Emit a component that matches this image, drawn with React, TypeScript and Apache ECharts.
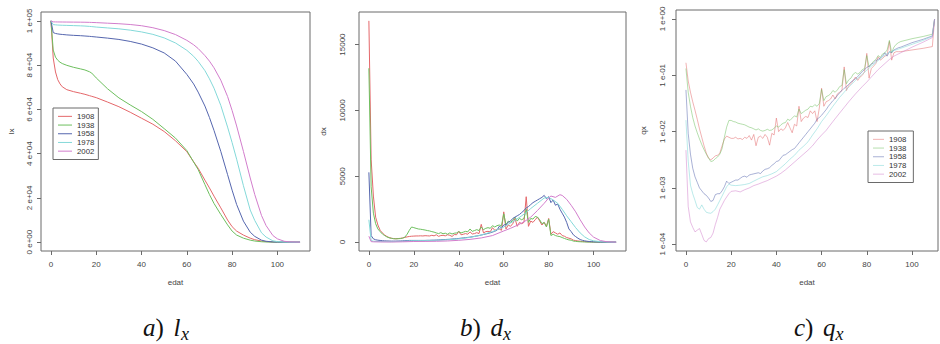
import React, { useEffect, useRef } from "react";
import * as echarts from "echarts";

// ---------- categories / styling keys ----------
const years = ["1908", "1938", "1958", "1978", "2002"];
const lineColors = ["#E4676A", "#6DBF5E", "#5566AE", "#84D9D9", "#D27DCC"];
const qxLineColors = [
  "rgba(228,103,106,0.5)",
  "rgba(109,191,94,0.5)",
  "rgba(85,102,174,0.5)",
  "rgba(132,217,217,0.55)",
  "rgba(210,125,204,0.5)",
];

// ---------- tick labels ----------
const edatTicks = [0, 20, 40, 60, 80, 100];
const lxTickValues = [0, 20000, 40000, 60000, 80000, 100000];
const lxTickLabels = ["0 e+00", "2 e+04", "4 e+04", "6 e+04", "8 e+04", "1 e+05"];
const dxTickValues = [0, 5000, 10000, 15000];
const dxTickLabels = ["0", "5000", "10000", "15000"];
const qxTickValues = [1e-4, 1e-3, 1e-2, 1e-1, 1];
const qxTickLabels = ["1 e-04", "1 e-03", "1 e-02", "1 e-01", "1 e+00"];
const axisNames = ["lx", "dx", "qx"];
const xAxisName = "edat";
const captionLetters = ["a", "b", "c"];
const captionSymbols = ["l", "d", "q"];
const captionSub = "x";

// ---------- a) lx ----------
const lxAges = [0, 1, 2, 3, 4, 5, 7, 10, 13, 15, 17, 18, 20, 25, 30, 35, 40, 45, 50, 55, 60, 63, 65, 68, 70, 72, 75, 78, 80, 82, 85, 88, 90, 93, 95, 98, 100, 103, 105, 110];
const lx1908 = [100000, 83200, 76900, 73400, 71500, 70200, 68900, 68000, 67300, 66800, 66200, 65900, 65300, 63300, 61200, 58700, 56000, 53300, 50000, 45800, 40900, 36300, 33400, 28000, 24500, 20800, 15500, 10000, 7000, 5000, 3200, 1800, 1100, 500, 250, 80, 40, 12, 5, 0];
const lx1938 = [100000, 86800, 83600, 82200, 81300, 80700, 79900, 79000, 78300, 77800, 77000, 76400, 74200, 69300, 65200, 62000, 59000, 55500, 51300, 47000, 41400, 36200, 32800, 26000, 21500, 17500, 12500, 7800, 5000, 3200, 1800, 900, 500, 180, 90, 25, 10, 3, 1, 0];
const lx1958 = [100000, 94700, 94300, 94100, 93950, 93850, 93650, 93450, 93300, 93150, 93000, 92900, 92700, 92200, 91600, 90700, 89500, 87800, 85500, 81800, 75800, 71500, 67800, 61500, 56300, 50500, 41000, 30500, 23500, 17000, 9500, 4500, 2600, 900, 400, 100, 40, 10, 3, 0];
const lx1978 = [100000, 98300, 98200, 98100, 98050, 98000, 97950, 97850, 97750, 97650, 97500, 97400, 97200, 96800, 96400, 95800, 95000, 93900, 92300, 90000, 86700, 84000, 81700, 77500, 73800, 69600, 61800, 52000, 45000, 37500, 25500, 14500, 9800, 4200, 2300, 600, 250, 50, 15, 0];
const lx2002 = [100000, 99550, 99520, 99500, 99490, 99480, 99460, 99430, 99400, 99370, 99320, 99280, 99200, 98950, 98700, 98350, 97800, 96900, 95600, 93800, 91200, 89200, 87500, 84300, 81800, 78800, 73200, 65800, 59500, 52500, 41000, 29000, 21500, 12000, 7500, 3000, 1500, 400, 150, 0];

// ---------- b) dx ----------
const dxAgesYearly = [
  0, 1, 2, 3, 4, 5, 6, 7, 8, 9, 10, 11, 12, 13, 14, 15, 16, 17, 18, 19,
  20, 21, 22, 23, 24, 25, 26, 27, 28, 29, 30, 31, 32, 33, 34, 35, 36, 37, 38, 39,
  40, 41, 42, 43, 44, 45, 46, 47, 48, 49, 50, 51, 52, 53, 54, 55, 56, 57, 58, 59,
  60, 61, 62, 63, 64, 65, 66, 67, 68, 69, 70, 71, 72, 73, 74, 75, 76, 77, 78, 79,
  80, 81, 82, 83, 84, 85, 86, 87, 88, 89, 90, 91, 92, 93, 94, 95, 96, 97, 98, 99,
  100, 103, 106, 110,
];
const dx1908 = [
  16800, 6300, 3500, 1900, 1300, 900, 700, 550, 430, 350,
  300, 270, 260, 270, 290, 320, 360, 400, 430, 450,
  460, 470, 470, 480, 470, 490, 480, 470, 520, 480,
  560, 440, 500, 520, 480, 560, 520, 430, 580, 560,
  820, 560, 600, 650, 600, 780, 620, 650, 720, 650,
  1350, 700, 800, 820, 780, 1100, 900, 950, 1000, 900,
  2300, 1000, 1300, 1200, 1400, 1800, 1200, 1500, 1400, 1500,
  3450, 1200, 1600, 1500, 1700, 1900, 1600, 1300, 1500, 1200,
  1800, 600, 800, 700, 600, 700, 500, 450, 350, 300,
  250, 150, 120, 90, 70, 50, 40, 30, 20, 15,
  10, 5, 2, 0,
];
const dx1938 = [
  13200, 4200, 2200, 1400, 1000, 800, 620, 500, 400, 330,
  290, 260, 250, 260, 270, 300, 380, 600, 900, 1150,
  1100, 1050, 1000, 980, 950, 920, 880, 850, 800, 760,
  700, 650, 720, 640, 680, 600, 700, 620, 680, 700,
  800, 700, 760, 820, 780, 1000, 820, 880, 950, 880,
  1150, 950, 1050, 1100, 1050, 1250, 1150, 1250, 1300, 1250,
  2150, 1300, 1600, 1500, 1650, 1900, 1600, 1800, 1700, 1800,
  2500, 1500, 1800, 1750, 1950, 1900, 1700, 1400, 1500, 1150,
  1750, 500, 600, 500, 450, 420, 350, 280, 220, 170,
  150, 80, 60, 40, 30, 20, 15, 10, 7, 5,
  3, 1, 0, 0,
];
const dx1958 = [
  5300, 500, 250, 180, 150, 130, 110, 100, 90, 85,
  80, 80, 80, 85, 90, 100, 110, 120, 130, 130,
  130, 130, 130, 130, 130, 130, 140, 140, 150, 150,
  160, 170, 180, 190, 200, 210, 220, 235, 250, 265,
  280, 300, 320, 340, 360, 380, 410, 440, 470, 500,
  540, 580, 620, 660, 710, 760, 830, 900, 1200, 1100,
  1300, 1350, 1500, 1600, 1800, 1900, 2000, 2100, 2250, 2400,
  2600, 2700, 2850, 3000, 3100, 3200, 3300, 3400, 3550, 3300,
  3450, 3000, 3200, 2800, 2900, 2500, 2200, 1900, 1500, 1000,
  800, 550, 420, 300, 200, 140, 100, 70, 50, 35,
  25, 8, 2, 0,
];
const dxAges1978 = [0, 1, 2, 5, 10, 15, 20, 25, 30, 35, 40, 45, 50, 55, 60, 63, 65, 68, 70, 72, 75, 78, 80, 82, 84, 86, 88, 90, 92, 94, 96, 98, 100, 103, 106, 110];
const dx1978 = [1700, 120, 70, 45, 35, 60, 110, 120, 140, 180, 250, 360, 540, 800, 1150, 1450, 1650, 2000, 2250, 2550, 2950, 3350, 3400, 3200, 2950, 2500, 2000, 1550, 1100, 700, 400, 200, 100, 40, 10, 0];
const dxAges2002 = [0, 1, 2, 5, 10, 15, 20, 25, 30, 35, 40, 45, 50, 55, 60, 63, 65, 68, 70, 72, 75, 78, 80, 81, 83, 85, 86, 88, 90, 92, 94, 96, 98, 100, 103, 106, 110];
const dx2002 = [450, 40, 25, 15, 12, 25, 50, 55, 65, 90, 140, 210, 320, 500, 850, 1050, 1200, 1450, 1650, 1900, 2400, 2950, 3350, 3500, 3400, 3600, 3550, 3250, 2800, 2300, 1700, 1150, 700, 380, 120, 30, 0];

// ---------- c) qx ----------
const qxAgesYearly = [
  0, 1, 2, 3, 4, 5, 6, 7, 8, 9, 10, 11, 12, 13, 14, 15, 16, 17, 18, 19,
  20, 21, 22, 23, 24, 25, 26, 27, 28, 29, 30, 31, 32, 33, 34, 35, 36, 37, 38, 39,
  40, 41, 42, 43, 44, 45, 46, 47, 48, 49, 50, 51, 52, 53, 54, 55, 56, 57, 58, 59,
  60, 61, 62, 63, 64, 65, 66, 67, 68, 69, 70, 71, 72, 73, 74, 75, 76, 77, 78, 79,
  80, 81, 82, 83, 84, 85, 86, 87, 88, 89, 90, 91, 92, 93, 94, 95,
  100, 105, 109, 110,
];
const qx1908 = [
  0.167, 0.0794, 0.0501, 0.0339, 0.024, 0.0166, 0.0112, 0.0079, 0.00562, 0.00417,
  0.00339, 0.00316, 0.00339, 0.00372, 0.0038, 0.00417, 0.00562, 0.00741, 0.00832, 0.00794,
  0.00759, 0.00759, 0.00794, 0.00741, 0.00759, 0.00724, 0.00794, 0.00759, 0.00851, 0.00708,
  0.00891, 0.00562, 0.00794, 0.00832, 0.00759, 0.00891, 0.00794, 0.00575, 0.00933, 0.00871,
  0.0174, 0.01, 0.0112, 0.0105, 0.0117, 0.0145, 0.0117, 0.00955, 0.0135, 0.0126,
  0.0282, 0.0151, 0.0174, 0.0186, 0.0178, 0.0234, 0.0209, 0.0234, 0.0151, 0.0263,
  0.0589, 0.0282, 0.0339, 0.0355, 0.038, 0.0447, 0.038, 0.0468, 0.0501, 0.0537,
  0.141, 0.0537, 0.0661, 0.0708, 0.0813, 0.0933, 0.0813, 0.0933, 0.1, 0.115,
  0.245, 0.0891, 0.132, 0.145, 0.162, 0.214, 0.186, 0.2, 0.219, 0.229,
  0.398, 0.186, 0.251, 0.263, 0.263, 0.263,
  0.282, 0.302, 0.324, 1,
];
const qx1938 = [
  0.132, 0.0501, 0.0282, 0.0178, 0.0126, 0.00955, 0.00741, 0.00589, 0.00479, 0.00398,
  0.00339, 0.00295, 0.00302, 0.00331, 0.00355, 0.00398, 0.00501, 0.00794, 0.012, 0.0158,
  0.0158, 0.0151, 0.0148, 0.0141, 0.0138, 0.0135, 0.0132, 0.0126, 0.012, 0.0117,
  0.0112, 0.0107, 0.0112, 0.0105, 0.0102, 0.0105, 0.011, 0.0105, 0.0107, 0.0115,
  0.0126, 0.012, 0.0132, 0.0141, 0.0145, 0.0166, 0.0158, 0.0174, 0.0191, 0.0182,
  0.0251, 0.0209, 0.0224, 0.024, 0.0251, 0.0282, 0.0275, 0.0302, 0.0282, 0.0316,
  0.0562, 0.0355, 0.0417, 0.0437, 0.0468, 0.0537, 0.0501, 0.055, 0.0631, 0.0661,
  0.126, 0.0708, 0.0832, 0.0891, 0.105, 0.112, 0.105, 0.112, 0.126, 0.132,
  0.224, 0.141, 0.158, 0.178, 0.191, 0.224, 0.209, 0.24, 0.251, 0.282,
  0.417, 0.251, 0.316, 0.355, 0.38, 0.398,
  0.447, 0.49, 0.537, 1,
];
const qx1958 = [
  0.055, 0.0093, 0.00398, 0.00224, 0.00158, 0.00126, 0.001, 0.00089, 0.00079, 0.00074,
  0.00066, 0.000575, 0.0006, 0.00076, 0.00079, 0.00079, 0.00089, 0.00105, 0.00132, 0.0012,
  0.00126, 0.00132, 0.00138, 0.00138, 0.00148, 0.00158, 0.00162, 0.00155, 0.0017, 0.00174,
  0.00178, 0.00182, 0.00186, 0.0018, 0.002, 0.00214, 0.00219, 0.00229, 0.00251, 0.00269,
  0.00295, 0.00302, 0.00339, 0.0038, 0.00389, 0.00417, 0.00447, 0.00479, 0.00501, 0.00562,
  0.00631, 0.00708, 0.00794, 0.00891, 0.01, 0.0112, 0.0126, 0.0141, 0.0166, 0.0178,
  0.0195, 0.0219, 0.0245, 0.0282, 0.0316, 0.0355, 0.0389, 0.0437, 0.049, 0.0537,
  0.0589, 0.0631, 0.0692, 0.0759, 0.0813, 0.0871, 0.0955, 0.105, 0.117, 0.126,
  0.138, 0.145, 0.158, 0.166, 0.182, 0.191, 0.204, 0.219, 0.251, 0.219,
  0.263, 0.251, 0.282, 0.295, 0.309, 0.316,
  0.38, 0.437, 0.501, 1,
];
const qxAgesSmooth = [
  0, 1, 2, 3, 4, 5, 6, 7, 8, 9, 10, 11, 12, 13, 14, 15, 16, 17, 18, 19, 20,
  22, 24, 26, 28, 30, 32, 34, 36, 38, 40, 42, 44, 46, 48, 50, 52, 54, 56, 58, 60, 62,
  65, 68, 70, 72, 75, 78, 80, 82, 85, 88, 90, 92, 95, 100, 105, 109, 110,
];
const qx1978 = [
  0.016, 0.003, 0.00112, 0.00079, 0.0006, 0.00045, 0.00042, 0.0005, 0.00042, 0.00037, 0.00036, 0.000355, 0.00038, 0.00042, 0.0005, 0.0006, 0.00072, 0.00087, 0.00105, 0.00117, 0.00112,
  0.0011, 0.00112, 0.00115, 0.0012, 0.00132, 0.00145, 0.00158, 0.00166, 0.00178, 0.00195, 0.00229, 0.00269, 0.00324, 0.0038, 0.00468, 0.0055, 0.0066, 0.0087, 0.0112, 0.0151, 0.0191,
  0.0282, 0.0407, 0.0501, 0.0617, 0.0813, 0.105, 0.123, 0.145, 0.182, 0.229, 0.257, 0.275, 0.302, 0.355, 0.417, 0.49, 1,
];
const qx2002 = [
  0.0047, 0.00047, 0.00025, 0.0002, 0.000166, 0.000178, 0.00019, 0.00015, 0.000117, 0.00011, 0.000126, 0.000132, 0.000158, 0.000224, 0.0003, 0.00042, 0.0005, 0.0006, 0.00069, 0.00079, 0.00087,
  0.00089, 0.00085, 0.00093, 0.001, 0.0011, 0.00117, 0.00126, 0.00135, 0.00148, 0.00162, 0.00182, 0.00209, 0.00245, 0.00288, 0.00339, 0.00398, 0.00468, 0.00562, 0.00708, 0.0087, 0.0105,
  0.0151, 0.0214, 0.0269, 0.0339, 0.0468, 0.0631, 0.0759, 0.0933, 0.126, 0.162, 0.191, 0.219, 0.251, 0.316, 0.389, 0.468, 1,
];

// ---------- option building ----------
const FONT = '"Liberation Sans", Arial, sans-serif';
const SERIF = '"Liberation Serif", "DejaVu Serif", serif';
const TXT = "#444";
const BOX = "#6a6a6a";
const TICK_FS = 8;

const pairs = (ages: number[], vals: number[]) => ages.map((a, i) => [a, vals[i]]);

const panelData = [
  [
    [lxAges, lx1908],
    [lxAges, lx1938],
    [lxAges, lx1958],
    [lxAges, lx1978],
    [lxAges, lx2002],
  ],
  [
    [dxAgesYearly, dx1908],
    [dxAgesYearly, dx1938],
    [dxAgesYearly, dx1958],
    [dxAges1978, dx1978],
    [dxAges2002, dx2002],
  ],
  [
    [qxAgesYearly, qx1908],
    [qxAgesYearly, qx1938],
    [qxAgesYearly, qx1958],
    [qxAgesSmooth, qx1978],
    [qxAgesSmooth, qx2002],
  ],
];

function labelFrom(values: number[], labels: string[], v: number) {
  for (let i = 0; i < values.length; i++) {
    if (Math.abs(values[i] - v) <= Math.abs(values[i]) * 1e-6 + 1e-12) return labels[i];
  }
  return "";
}

function buildOption() {
  const grids = [
    { left: 41, top: 12, width: 269, height: 239 },
    { left: 359, top: 12, width: 267, height: 239 },
    { left: 676, top: 10, width: 262, height: 241 },
  ].map((g) => ({
    ...g,
    show: true,
    borderColor: BOX,
    borderWidth: 1,
    backgroundColor: "transparent",
    containLabel: false,
    outerBoundsMode: "none",
  }));

  const xMax = [114.4, 114.4, 111.5];
  const xAxes = xMax.map((max, gi) => ({
    type: "value",
    gridIndex: gi,
    min: -4.4,
    max,
    name: xAxisName,
    nameLocation: "middle",
    nameGap: 27,
    nameMoveOverlap: false,
    nameTextStyle: { fontSize: TICK_FS, color: TXT, fontFamily: FONT },
    axisLine: { show: false, onZero: false },
    splitLine: { show: false },
    axisTick: { show: true, inside: false, length: 4, lineStyle: { color: BOX, width: 1 }, customValues: edatTicks },
    axisLabel: { show: true, fontSize: TICK_FS, color: TXT, fontFamily: FONT, margin: 9, customValues: edatTicks },
  }));

  const yCommon = (gi: number, gap: number, margin: number) => ({
    gridIndex: gi,
    name: axisNames[gi],
    nameLocation: "middle",
    nameRotate: 90,
    nameGap: gap,
    nameMoveOverlap: false,
    nameTextStyle: { fontSize: TICK_FS, color: TXT, fontFamily: FONT },
    axisLine: { show: false, onZero: false },
    splitLine: { show: false },
    axisLabel: { show: true, rotate: 90, fontSize: TICK_FS, color: TXT, fontFamily: FONT, margin },
  });

  const yAxes: any[] = [
    {
      ...yCommon(0, 26, 8),
      type: "value",
      min: -4000,
      max: 104000,
      axisTick: { show: true, length: 4, lineStyle: { color: BOX }, customValues: lxTickValues },
      axisLabel: {
        ...yCommon(0, 26, 8).axisLabel,
        customValues: lxTickValues,
        formatter: (v: number) => labelFrom(lxTickValues, lxTickLabels, v),
      },
    },
    {
      ...yCommon(1, 32, 13),
      type: "value",
      min: -672,
      max: 17472,
      axisTick: { show: true, length: 4, lineStyle: { color: BOX }, customValues: dxTickValues },
      axisLabel: {
        ...yCommon(1, 32, 13).axisLabel,
        customValues: dxTickValues,
        formatter: (v: number) => labelFrom(dxTickValues, dxTickLabels, v),
      },
    },
    {
      ...yCommon(2, 29, 10),
      type: "log",
      logBase: 10,
      min: 7.59e-5,
      max: 1.445,
      axisTick: { show: true, length: 4, lineStyle: { color: BOX } },
      axisLabel: {
        ...yCommon(2, 29, 10).axisLabel,
        showMinLabel: false,
        showMaxLabel: false,
        formatter: (v: number) => labelFrom(qxTickValues, qxTickLabels, v),
      },
    },
  ];

  const series: any[] = [];
  panelData.forEach((panel, pi) => {
    panel.forEach(([ages, vals], si) => {
      const color = pi === 2 ? qxLineColors[si] : lineColors[si];
      series.push({
        type: "line",
        name: years[si],
        xAxisIndex: pi,
        yAxisIndex: pi,
        data: pairs(ages as number[], vals as number[]),
        symbol: "none",
        showSymbol: false,
        clip: true,
        silent: true,
        lineStyle: { color, width: 1 },
        itemStyle: { color },
        emphasis: { disabled: true },
      });
    });
  });

  const legendBase = {
    show: true,
    orient: "vertical",
    icon: "rect",
    itemHeight: 1,
    itemGap: 0,
    selectedMode: false,
    borderColor: BOX,
    borderWidth: 1,
    borderRadius: 0,
    backgroundColor: "#fff",
    itemStyle: { borderWidth: 0 },
    textStyle: { fontSize: 7.8, lineHeight: 8.7, color: "#333", fontFamily: FONT, padding: [0, 0, 0, 0] },
  };
  const legends = [
    {
      ...legendBase,
      left: 53,
      top: 108,
      itemWidth: 14,
      padding: [4, 4, 4, 5],
      data: years.map((y, i) => ({ name: y, itemStyle: { color: lineColors[i], borderWidth: 0 } })),
    },
    {
      ...legendBase,
      left: 868,
      top: 131,
      itemWidth: 11,
      padding: [4, 7, 4, 5],
      data: years.map((y, i) => ({ name: y, itemStyle: { color: qxLineColors[i], borderWidth: 0 } })),
    },
  ];

  // captions under each panel: "a) l_x", "b) d_x", "c) q_x"
  const capX = [143, 460, 794];
  const letterW = [12.5, 12.5, 11];
  const symW = [7.5, 12.5, 12.5];
  const MAIN = 25;
  const SUB = 18;
  const graphic: any[] = [];
  capX.forEach((x0, i) => {
    const xParen = x0 + letterW[i];
    const xSym = xParen + 18;
    graphic.push({
      type: "text",
      x: x0,
      y: 327.5,
      silent: true,
      style: { text: captionLetters[i], font: `italic ${MAIN}px ${SERIF}`, fill: "#111", textAlign: "left", textVerticalAlign: "middle" },
    });
    graphic.push({
      type: "text",
      x: xParen,
      y: 327.5,
      silent: true,
      style: { text: ")", font: `${MAIN}px ${SERIF}`, fill: "#111", textAlign: "left", textVerticalAlign: "middle" },
    });
    graphic.push({
      type: "text",
      x: xSym,
      y: 327.5,
      silent: true,
      style: { text: captionSymbols[i], font: `italic ${MAIN}px ${SERIF}`, fill: "#111", textAlign: "left", textVerticalAlign: "middle" },
    });
    graphic.push({
      type: "text",
      x: xSym + symW[i],
      y: 333.5,
      silent: true,
      style: { text: captionSub, font: `italic ${SUB}px ${SERIF}`, fill: "#111", textAlign: "left", textVerticalAlign: "middle" },
    });
  });

  return {
    animation: false,
    backgroundColor: "#fff",
    textStyle: { fontFamily: FONT },
    grid: grids,
    xAxis: xAxes,
    yAxis: yAxes,
    legend: legends,
    series,
    graphic,
  };
}

export default function App() {
  const ref = useRef<HTMLDivElement>(null);
  useEffect(() => {
    if (!ref.current) return;
    const chart = echarts.init(ref.current, undefined, { renderer: "svg", width: 940, height: 344 });
    chart.setOption(buildOption() as any);
    return () => chart.dispose();
  }, []);
  return (
    <div
      ref={ref}
      style={{ position: "absolute", left: 0, top: 0, width: 940, height: 344, background: "#fff" }}
    />
  );
}
